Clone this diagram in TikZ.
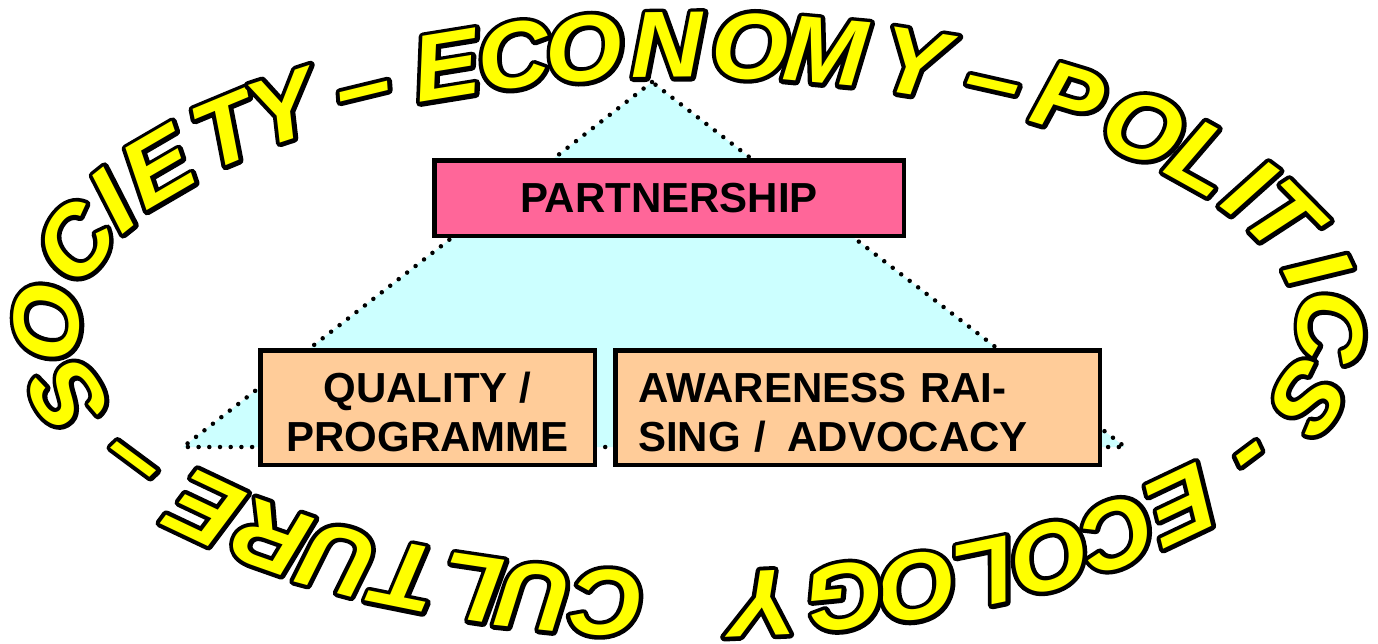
\documentclass[tikz,border=0pt]{standalone}
\usepackage{fontspec}
\setmainfont{Liberation Sans}
\definecolor{pinkbox}{HTML}{FF6699}
\definecolor{peachbox}{HTML}{FFCC99}
\definecolor{tricyan}{HTML}{CCFFFF}
\definecolor{wordyellow}{HTML}{FFFF00}
\newcommand\outlinedchar[1]{\rlap{\special{pdf:literal direct 0 0 0 RG 1 Tr 8.5 w 1 j}#1\special{pdf:literal direct 0 Tr}}#1}
\tikzset{
  boxstyle/.style={draw=black, line width=4.5pt, inner sep=0pt, font=\fontsize{42}{49}\selectfont\bfseries},
  tristyle/.style={fill=tricyan, draw=black, line width=4.5pt, line cap=round, dash pattern=on 0pt off 10.7pt},
  arcletter/.style={text=wordyellow, font=\fontsize{94}{94}\selectfont\bfseries\itshape, inner sep=0pt, anchor=center},
}
\begin{document}
\begin{tikzpicture}[x=1pt,y=-1pt]
\useasboundingbox (0,0) rectangle (1378,643);
\coordinate (apex) at (652,82);
\coordinate (bl) at (183,447);
\coordinate (br) at (1125,447);
\path[tristyle] (apex) -- (bl) -- (br) -- cycle;
\node[boxstyle, fill=pinkbox, minimum width=469.5pt, minimum height=75.5pt] (partner) at (669,198) {PARTNERSHIP};
\node[boxstyle, fill=peachbox, minimum width=334.5pt, minimum height=114.5pt, align=center] (quality) at (427.5,407.5) {\rule{0pt}{40pt}QUALITY /\\PROGRAMME};
\node[boxstyle, fill=peachbox, minimum width=484.5pt, minimum height=114.5pt, align=left, text width=439pt, inner xsep=22.75pt] (aware) at (857.5,407.5) {\rule{0pt}{40pt}AWARENESS RAI-\\SING /\hspace{0.5em}ADVOCACY};
% letters of the arch, placed on the ellipse
\foreach \ch/\px/\py/\k in {S/63/392/1, O/46/318/2, C/73/238/3, I/110/197/4, E/156/163/5, T/219/125/6, Y/276/101/7, E/452/66/9, C/518/55/10, O/589/48/11, N/672/44/12, O/755/47/13, M/830/52/14, Y/922/60/15, P/1080/97/17, O/1151/128/18, L/1202/162/19, I/1256/190/20, T/1301/218/21, I/1324/272/22, C/1331/332/23, S/1307/402/24, E/1180/508/26, C/1117/537/27, O/1046/558/28, L/978/573/29, O/913/587/30, G/839/594/31, Y/759/605/32, C/605/595/33, U/531/594/34, L/468/587/35, T/397/581/36, U/328/562/37, R/268/536/38, E/196/509/39}{
  \pgfmathsetmacro\tang{atan2((325-\py)/280,(\px-689)/642)}
  \pgfmathsetmacro\rot{atan2(-247*cos(\tang),609*sin(\tang))}
  \node[arcletter, rotate=\rot, xshift=-5pt, xscale=1.05] (L\k) at ({689+642*cos(\tang)},{325-280*sin(\tang)}) {\outlinedchar{\ch}};
}
% dashes of the arch, placed where they are seen
\foreach \ch/\px/\py/\k in {–/367/90/8, –/996/85/16, -/1247/457/25, –/131/458/40}{
  \pgfmathsetmacro\tang{atan2((325-\py)/280,(\px-689)/642)}
  \pgfmathsetmacro\rot{atan2(-247*cos(\tang),609*sin(\tang))}
  \node[arcletter, rotate=\rot, xshift=-3pt, yshift=-11pt, xscale=1.05] (L\k) at (\px,\py) {\outlinedchar{\ch}};
}
\end{tikzpicture}
\end{document}
